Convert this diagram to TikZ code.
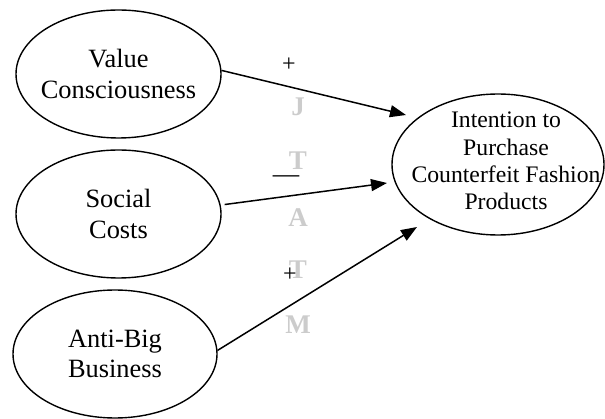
\documentclass[tikz,border=0pt]{standalone}
\usepackage{fontspec}
\setmainfont{Liberation Serif}
\usetikzlibrary{shapes.geometric,arrows.meta}
\begin{document}
\begin{tikzpicture}[x=1pt,y=-1pt,
  oval/.style={draw, ellipse, line width=1.4pt, inner sep=0pt},
  lefttext/.style={align=center, font=\fontsize{26.4}{30.4}\selectfont, inner sep=0pt},
  righttext/.style={align=center, font=\fontsize{23.7}{27.3}\selectfont, inner sep=0pt},
  link/.style={line width=1.5pt, -{Triangle[length=16pt,width=12pt]}},
  sign/.style={font=\fontsize{24}{28}\selectfont, inner sep=0pt},
  wm/.style={font=\fontsize{27}{30}\selectfont\bfseries, text=black!20, inner sep=0pt}]
\useasboundingbox (0,0) rectangle (605,419);
% watermark
\node[wm] (w1) at (298,107) {J};
\node[wm] (w2) at (298,160.5) {T};
\node[wm] (w3) at (298,217.5) {A};
\node[wm] (w4) at (298,270) {T};
\node[wm] (w5) at (298,325) {M};
% ellipses
\node[oval, minimum width=205pt, minimum height=128pt] (vc) at (118.5,74) {};
\node[lefttext] (vct) at (vc) {Value\\Consciousness};
\node[oval, minimum width=205pt, minimum height=128pt] (sc) at (118.5,214) {};
\node[lefttext] (sct) at (sc) {Social\\Costs};
\node[oval, minimum width=204pt, minimum height=128pt] (abb) at (115,354) {};
\node[lefttext] (abbt) at (abb) {Anti-Big\\Business};
\node[oval, minimum width=212pt, minimum height=141pt] (ipc) at (498,164.5) {};
\node[righttext] (ipct) at (506,161) {Intention to\\Purchase\\Counterfeit Fashion\\Products};
% arrow tips
\coordinate (t1) at (406,115);
\coordinate (t2) at (387,183);
\coordinate (t3) at (417,227);
\draw[link] (vc.2) -- (t1);
\draw[link, shorten <=4pt] (sc.5) -- (t2);
\draw[link] (abb.2) -- (t3);
% signs
\node[sign] (s1) at (289,65) {+};
\node[sign] (s2) at (286,179.5) {\fontsize{26.4}{30}\selectfont —};
\node[sign] (s3) at (290,275) {+};
\end{tikzpicture}
\end{document}
